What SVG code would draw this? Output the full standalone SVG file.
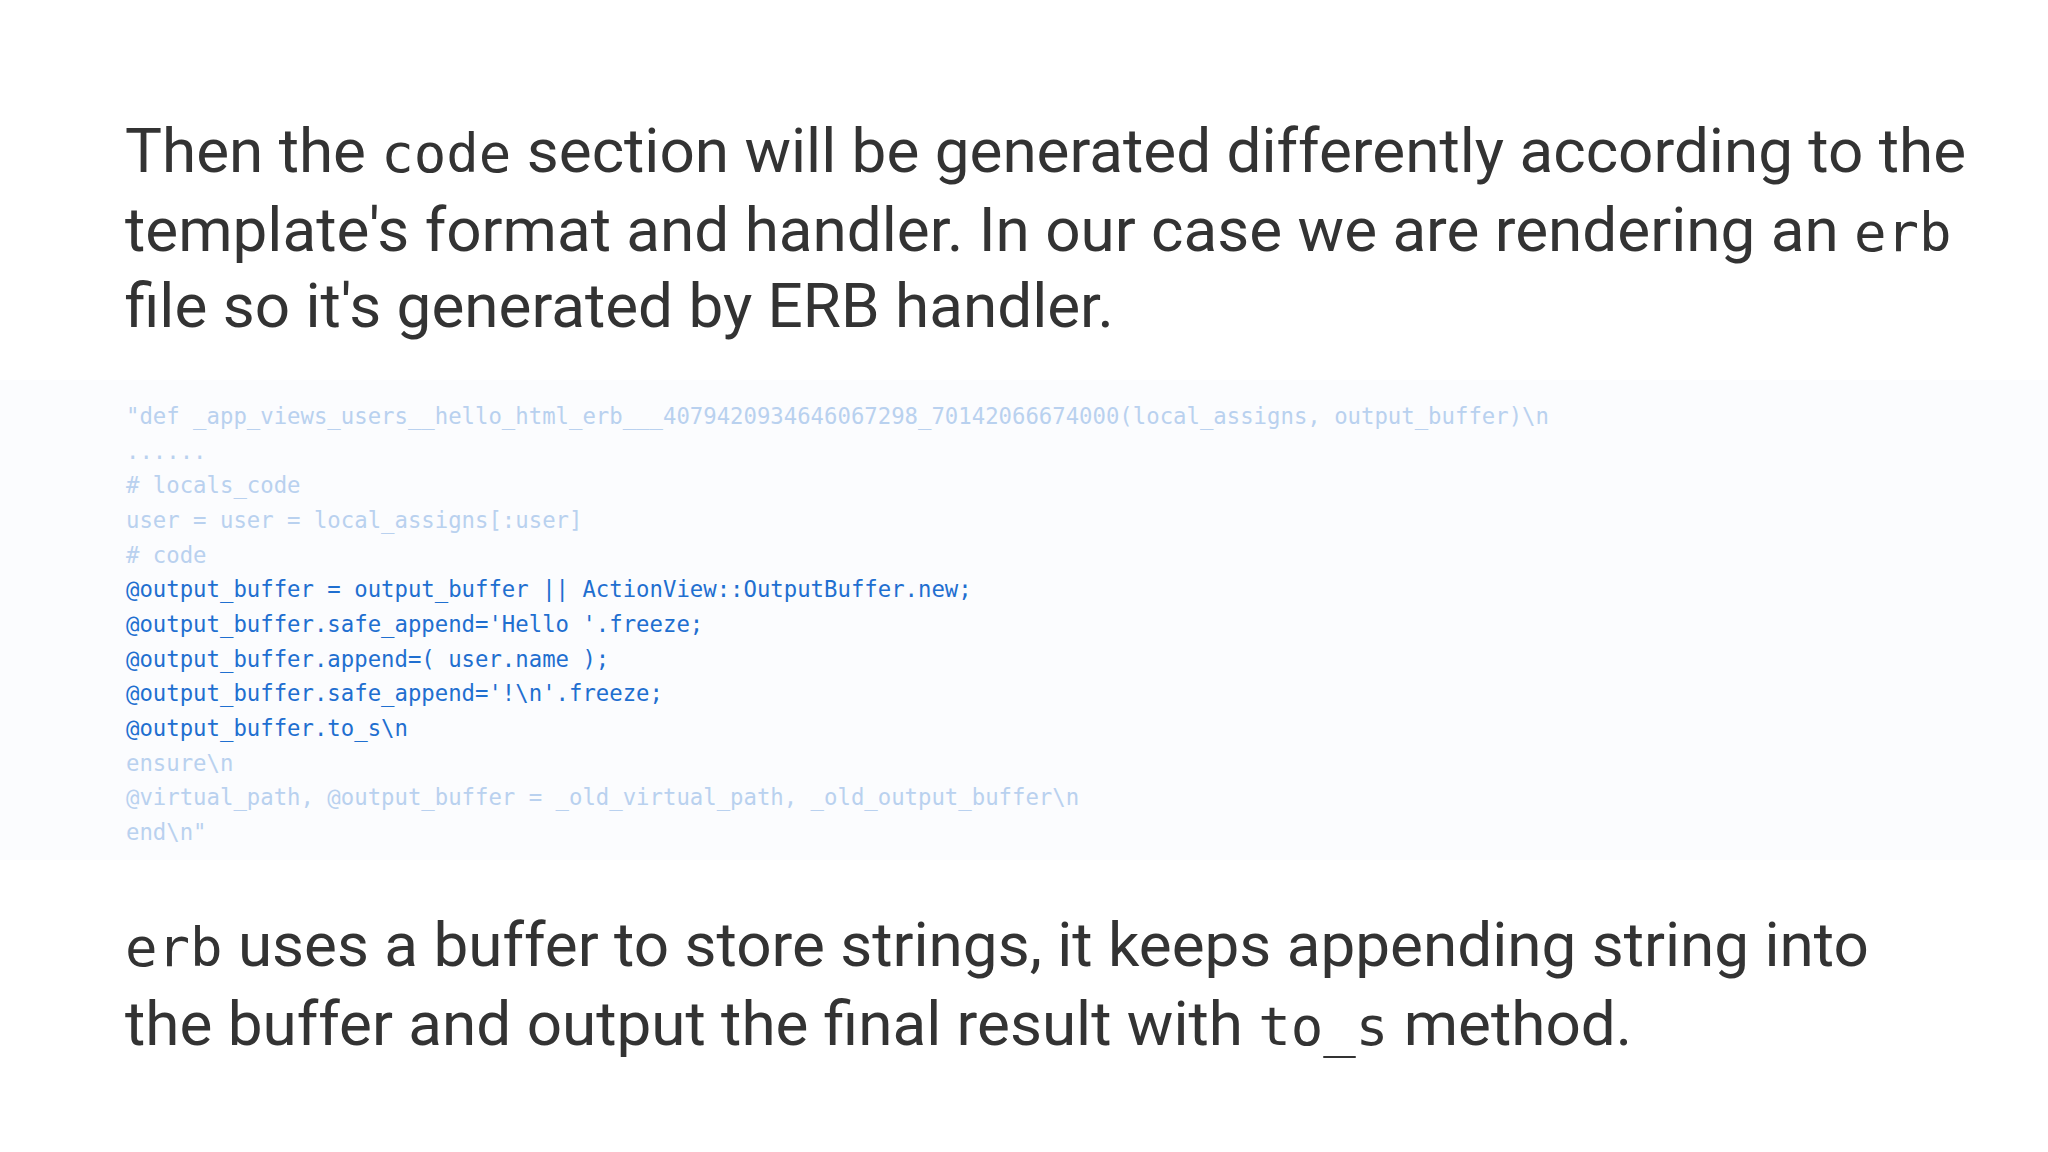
<svg xmlns="http://www.w3.org/2000/svg" width="2048" height="1152" viewBox="0 0 2048 1152">
<style>
.p{font-family:Roboto,"Liberation Sans",sans-serif;font-size:62px;fill:#333333}
.m{font-family:"DejaVu Sans Mono","Liberation Mono",monospace;font-size:54px}
.c{font-family:"DejaVu Sans Mono","Liberation Mono",monospace;font-size:22.3px;white-space:pre}
.f{fill:#b9d1ef}
.b{fill:#1f6fd0}
</style>
<rect width="2048" height="1152" fill="#ffffff"/>
<rect x="0" y="380" width="2048" height="480" fill="#fbfcfe"/>
<g id="heading">
<text class="p" x="125" y="172">Then the <tspan class="m">code</tspan> section will be generated differently according to the</text>
<text class="p" x="125" y="251">template's format and handler. In our case we are rendering an <tspan class="m">erb</tspan></text>
<text class="p" x="125" y="327">file so it's generated by ERB handler.</text>
</g>
<g id="code" class="c" xml:space="preserve">
<text class="f" x="126" y="424">"def _app_views_users__hello_html_erb___4079420934646067298_70142066674000(local_assigns, output_buffer)\n</text>
<text class="f" x="126" y="459">  ......</text>
<text class="f" x="126" y="493">  # locals_code</text>
<text class="f" x="126" y="528">  user = user = local_assigns[:user]</text>
<text class="f" x="126" y="563">  # code</text>
<text class="b" x="126" y="597">  @output_buffer = output_buffer || ActionView::OutputBuffer.new;</text>
<text class="b" x="126" y="632">  @output_buffer.safe_append='Hello '.freeze;</text>
<text class="b" x="126" y="667">  @output_buffer.append=( user.name );</text>
<text class="b" x="126" y="701">  @output_buffer.safe_append='!\n'.freeze;</text>
<text class="b" x="126" y="736">  @output_buffer.to_s\n</text>
<text class="f" x="126" y="771">ensure\n</text>
<text class="f" x="126" y="805">  @virtual_path, @output_buffer = _old_virtual_path, _old_output_buffer\n</text>
<text class="f" x="126" y="840"> end\n"</text>
</g>
<g id="footer">
<text class="p" x="125" y="966"><tspan class="m">erb</tspan> uses a buffer to store strings, it keeps appending string into</text>
<text class="p" x="125" y="1045">the buffer and output the final result with <tspan class="m">to_s</tspan> method.</text>
</g>
</svg>
